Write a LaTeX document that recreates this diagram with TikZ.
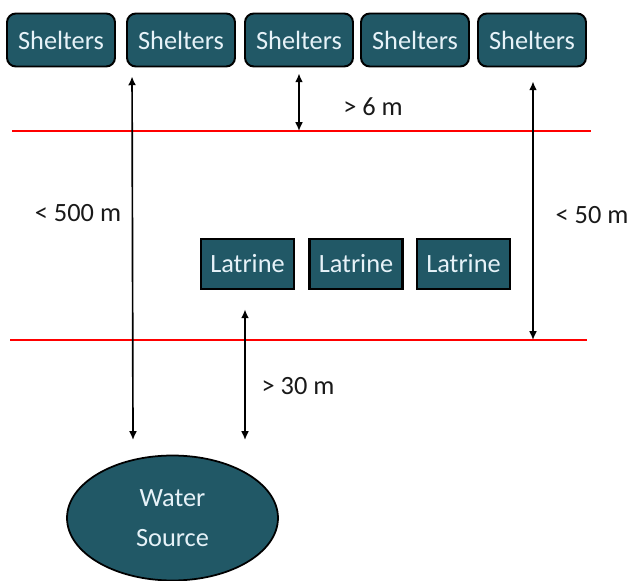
\documentclass[tikz,border=0pt]{standalone}
\usepackage{fontspec}
\setmainfont{Carlito}
\usetikzlibrary{arrows.meta,calc,shapes.geometric}
\definecolor{teal1}{RGB}{33,88,102}
\definecolor{txtc}{RGB}{230,242,248}
\tikzset{sh/.style={draw=black,line width=1.1pt,fill=teal1,rounded corners=5pt,minimum width=2.16cm,minimum height=1.06cm,text=txtc,inner sep=0pt},
 lt/.style={draw=black,line width=1.6pt,fill=teal1,minimum width=1.86cm,minimum height=1cm,text=txtc,inner sep=0pt},
 ws/.style={ellipse,draw=black,line width=1pt,fill=teal1,minimum width=4.22cm,minimum height=2.5cm,text=txtc,align=center,inner sep=0pt},
 dim/.style={{Latex[length=5pt,width=4.5pt]}-{Latex[length=5pt,width=4.5pt]},line width=.95pt},
 lim/.style={red,line width=1.1pt},lab/.style={text=black!90}}
\begin{document}
\begin{tikzpicture}[x=.02cm,y=-.02cm,font=\fontsize{15}{17}\selectfont]
\useasboundingbox (0,0) rectangle (630,581);
\foreach \x [count=\i] in {61,181,299,415,532}{\node[sh] (s\i) at(\x,40){Shelters};}
\foreach \x [count=\i] in {247.5,356,463.5}{\node[lt] (l\i) at(\x,264){Latrine};}
\node[ws] (w) at(172.5,518){Water\\[6pt]Source};
% limit lines
\coordinate (ra) at(12,131);\coordinate (rb) at(591,131);
\coordinate (rc) at(10,340);\coordinate (rd) at(587,340);
\draw[lim](ra)--(rb);\draw[lim](rc)--(rd);
% distances
\coordinate (p1) at(133,440);\coordinate (p2) at(245,440);
\draw[dim]($(s2.south west)+(6,9)$)--(p1);
\draw[dim]($(s3.south)+(0,6)$)--(s3.south |- ra);
\draw[dim]($(s5.south)+(1,14)$)--($(s5.south |- rc)+(1,0)$);
\draw[dim]($(l1.south)+(-2.5,19)$)--(p2);
\node[lab] (d1) at(78,213){< 500 m};
\node[lab] (d2) at(373,107){> 6 m};
\node[lab] (d3) at(592,215){< 50 m};
\node[lab] (d4) at(298,386){> 30 m};
\end{tikzpicture}
\end{document}
